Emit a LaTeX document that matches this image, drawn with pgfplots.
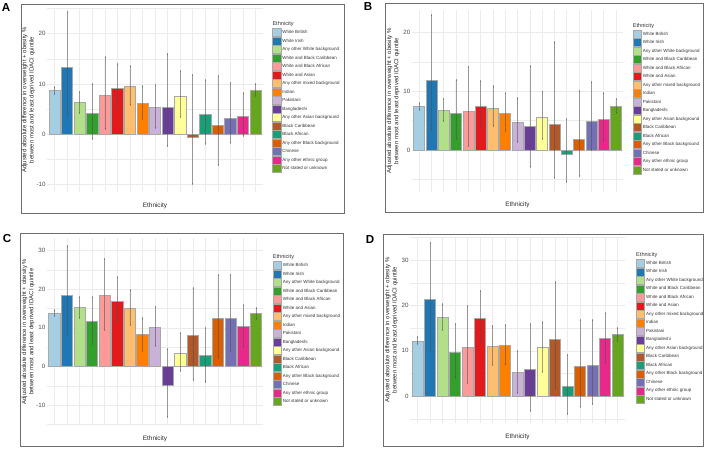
\documentclass[border=0pt]{standalone}
\usepackage{fontspec}
\setmainfont{Liberation Sans}
\usepackage{pgfplots}
\pgfplotsset{compat=1.18}

\definecolor{cWB}{HTML}{A6CEE3}
\definecolor{cWI}{HTML}{1F78B4}
\definecolor{cAOW}{HTML}{B2DF8A}
\definecolor{cWBC}{HTML}{33A02C}
\definecolor{cWBA}{HTML}{FB9A99}
\definecolor{cWA}{HTML}{E31A1C}
\definecolor{cAOM}{HTML}{FDBF6F}
\definecolor{cIND}{HTML}{FF7F00}
\definecolor{cPAK}{HTML}{CAB2D6}
\definecolor{cBAN}{HTML}{6A3D9A}
\definecolor{cAOA}{HTML}{FFFF99}
\definecolor{cBC}{HTML}{B15928}
\definecolor{cBA}{HTML}{1B9E77}
\definecolor{cAOB}{HTML}{D95F02}
\definecolor{cCHI}{HTML}{7570B3}
\definecolor{cAOE}{HTML}{E7298A}
\definecolor{cNS}{HTML}{66A61E}
\definecolor{gridc}{HTML}{EBEBEB}
\definecolor{barline}{HTML}{A8A8A8}
\definecolor{errc}{HTML}{505050}
\definecolor{tickc}{HTML}{4D4D4D}
\definecolor{boxc}{HTML}{6E6E6E}

% colour, x, value, lower CI, upper CI
\newcommand\ebar[5]{%
  \pgfmathsetmacro\ebp{#5-#3}%
  \pgfmathsetmacro\ebm{#3-#4}%
  \edef\ebcmd{\noexpand\addplot[fill=#1] coordinates {(#2,#3) += (0,\ebp) -= (0,\ebm)};}%
  \ebcmd}

\pgfplotsset{
  pstyle/.style={
    scale only axis,
    ybar, bar width=0.9, bar shift=0pt,
    xmin=0.4, xmax=17.6,
    xtick={1,...,17}, xticklabels={},
    xmajorgrids, ymajorgrids, yminorgrids,
    major grid style={color=gridc, line width=0.45pt},
    minor grid style={color=gridc, line width=0.3pt},
    axis line style={draw=none},
    major tick length=0pt, minor tick length=0pt,
    tick style={draw=none},
    yticklabel style={font=\fontsize{6.2}{7}\selectfont, text=tickc, inner sep=1.2pt},
    /pgf/number format/assume math mode=true,
    xlabel={Ethnicity},
    every axis x label/.style={at={(rel axis cs:0.5,0)}, anchor=center, yshift=-13.5pt, font=\fontsize{6.4}{7}\selectfont, text=black!85},
    ylabel={Adjusted absolute difference in overweight + obesity \%\\between most and least deprived IDACI quintile},
    every axis y label/.style={at={(rel axis cs:0,0.5)}, rotate=90, anchor=center, yshift=18.5pt, align=center, font=\fontsize{6.0}{7.2}\selectfont, text=black!85},
    every axis plot/.append style={draw=barline, line width=0.5pt,
      error bars/y dir=both, error bars/y explicit,
      error bars/error bar style={color=errc, opacity=0.5, line width=0.45pt},
      error bars/error mark options={color=errc, opacity=0.5, mark size=1pt, line width=0.45pt}},
    legend cell align=left,
    legend image code/.code={\draw[##1] (0pt,-4pt) rectangle (8.3pt,4pt);},
    legend style={anchor=north west, draw=none, fill=none, inner sep=0pt, outer sep=0pt,
      row sep=0pt, column sep=0pt, font=\fontsize{4.5}{5}\selectfont, text=black!80,
      nodes={inner xsep=1.3pt, inner ysep=0pt}},
    legend entries={White British, White Irish, Any other White background,
      White and Black Caribbean, White and Black African, White and Asian,
      Any other mixed background, Indian, Pakistani, Bangladeshi,
      Any other Asian background, Black Caribbean, Black African,
      Any other Black background, Chinese, Any other ethnic group,
      Not stated or unknown},
  }
}

\begin{document}
\begin{tikzpicture}
\useasboundingbox (0pt,0pt) rectangle (709pt,450pt);

% panel boxes
\draw[boxc, line width=0.8pt] (21pt,237pt) rectangle (344pt,446pt);
\draw[boxc, line width=0.8pt] (385.7pt,237.7pt) rectangle (703pt,446.7pt);
\draw[boxc, line width=0.8pt] (20.7pt,3.3pt) rectangle (343.3pt,216.7pt);
\draw[boxc, line width=0.8pt] (383.3pt,4pt) rectangle (703.3pt,215.7pt);

\node[font=\fontsize{11.6}{12}\selectfont\bfseries] at (6pt,442pt) {A};
\node[font=\fontsize{11.6}{12}\selectfont\bfseries] at (368pt,443pt) {B};
\node[font=\fontsize{11.6}{12}\selectfont\bfseries] at (7pt,211pt) {C};
\node[font=\fontsize{11.6}{12}\selectfont\bfseries] at (370pt,210pt) {D};

\node[anchor=west, inner sep=0pt, font=\fontsize{5.6}{6}\selectfont, text=black!80] at (272.3pt,426pt) {Ethnicity};
\node[anchor=west, inner sep=0pt, font=\fontsize{5.6}{6}\selectfont, text=black!80] at (632.7pt,424pt) {Ethnicity};
\node[anchor=west, inner sep=0pt, font=\fontsize{5.6}{6}\selectfont, text=black!80] at (272.7pt,192.7pt) {Ethnicity};
\node[anchor=west, inner sep=0pt, font=\fontsize{5.6}{6}\selectfont, text=black!80] at (636pt,195pt) {Ethnicity};

% ---------------- Panel A
\begin{axis}[pstyle, at={(47pt,258pt)}, anchor=south west, width=216pt, height=184pt,
  ymin=-11.5, ymax=25.1, ytick={-10,0,10,20}, minor ytick={-5,5,15,25},
  legend style={at={(1,1)}, xshift=9.3pt, yshift=-20.5pt}]
\ebar{cWB}{1}{8.7}{7.9}{9.3}
\ebar{cWI}{2}{13.3}{3.8}{24.3}
\ebar{cAOW}{3}{6.3}{4.3}{8.3}
\ebar{cWBC}{4}{4.1}{-0.9}{9.9}
\ebar{cWBA}{5}{7.7}{1.1}{15.3}
\ebar{cWA}{6}{9.1}{5.1}{13.9}
\ebar{cAOM}{7}{9.5}{5.9}{13.5}
\ebar{cIND}{8}{6.1}{3.1}{9.5}
\ebar{cPAK}{9}{5.3}{1.3}{9.7}
\ebar{cBAN}{10}{5.3}{-2.3}{16.0}
\ebar{cAOA}{11}{7.6}{3.5}{12.5}
\ebar{cBC}{12}{-0.7}{-9.9}{11.8}
\ebar{cBA}{13}{4.0}{-1.9}{10.7}
\ebar{cAOB}{14}{1.8}{-6.2}{11.5}
\ebar{cCHI}{15}{3.1}{-1.8}{10.1}
\ebar{cAOE}{16}{3.6}{-0.3}{8.1}
\ebar{cNS}{17}{8.7}{7.5}{9.9}
\end{axis}

% ---------------- Panel B
\begin{axis}[pstyle, at={(411.7pt,258.3pt)}, anchor=south west, width=211.6pt, height=181.7pt,
  ymin=-7.1, ymax=23.8, ytick={0,10,20}, minor ytick={-5,5,15},
  legend style={at={(1,1)}, xshift=9.4pt, yshift=-20pt}]
\ebar{cWB}{1}{7.4}{6.8}{7.9}
\ebar{cWI}{2}{11.9}{3.4}{22.9}
\ebar{cAOW}{3}{6.7}{4.9}{8.6}
\ebar{cWBC}{4}{6.3}{1.8}{11.9}
\ebar{cWBA}{5}{6.6}{0.7}{14.1}
\ebar{cWA}{6}{7.4}{3.8}{11.7}
\ebar{cAOM}{7}{7.1}{4.0}{10.8}
\ebar{cIND}{8}{6.2}{3.3}{9.6}
\ebar{cPAK}{9}{4.7}{1.3}{8.8}
\ebar{cBAN}{10}{4.0}{-2.9}{14.3}
\ebar{cAOA}{11}{5.5}{1.8}{9.9}
\ebar{cBC}{12}{4.4}{-4.8}{18.3}
\ebar{cBA}{13}{-0.7}{-5.5}{5.3}
\ebar{cAOB}{14}{1.8}{-4.5}{10.1}
\ebar{cCHI}{15}{4.8}{0.0}{11.6}
\ebar{cAOE}{16}{5.3}{1.5}{9.6}
\ebar{cNS}{17}{7.5}{6.3}{8.6}
\end{axis}

% ---------------- Panel C
\begin{axis}[pstyle, at={(46.7pt,25pt)}, anchor=south west, width=216.6pt, height=186.7pt,
  ymin=-15.2, ymax=33.2, ytick={-10,0,10,20,30}, minor ytick={-15,-5,5,15,25},
  legend style={at={(1,1)}, xshift=9.4pt, yshift=-23.1pt}]
\ebar{cWB}{1}{13.8}{13.1}{14.5}
\ebar{cWI}{2}{18.5}{7.9}{31.3}
\ebar{cAOW}{3}{15.3}{12.6}{17.9}
\ebar{cWBC}{4}{11.8}{5.8}{17.9}
\ebar{cWBA}{5}{18.4}{9.4}{27.9}
\ebar{cWA}{6}{17.0}{11.4}{23.1}
\ebar{cAOM}{7}{15.1}{10.6}{19.7}
\ebar{cIND}{8}{8.3}{4.1}{12.5}
\ebar{cPAK}{9}{10.2}{5.4}{15.4}
\ebar{cBAN}{10}{-4.9}{-13.1}{4.4}
\ebar{cAOA}{11}{3.5}{-1.3}{8.6}
\ebar{cBC}{12}{8.1}{-3.6}{20.3}
\ebar{cBA}{13}{2.8}{-4.1}{10.0}
\ebar{cAOB}{14}{12.5}{2.2}{23.6}
\ebar{cCHI}{15}{12.6}{4.1}{23.6}
\ebar{cAOE}{16}{10.3}{5.1}{15.8}
\ebar{cNS}{17}{13.7}{12.2}{15.1}
\end{axis}

% ---------------- Panel D
\begin{axis}[pstyle, at={(410pt,26.7pt)}, anchor=south west, width=215pt, height=186.6pt,
  ymin=-6.0, ymax=35.2, ytick={0,10,20,30}, minor ytick={-5,5,15,25,35},
  legend style={at={(1,1)}, xshift=11pt, yshift=-22.3pt}]
\ebar{cWB}{1}{12.2}{11.5}{13.0}
\ebar{cWI}{2}{21.3}{10.2}{33.8}
\ebar{cAOW}{3}{17.5}{14.7}{20.3}
\ebar{cWBC}{4}{9.7}{4.1}{15.9}
\ebar{cWBA}{5}{10.7}{2.8}{19.9}
\ebar{cWA}{6}{17.1}{11.6}{23.2}
\ebar{cAOM}{7}{11.0}{6.8}{15.5}
\ebar{cIND}{8}{11.3}{7.0}{15.7}
\ebar{cPAK}{9}{5.2}{0.7}{10.0}
\ebar{cBAN}{10}{5.9}{-3.2}{16.0}
\ebar{cAOA}{11}{10.7}{5.4}{16.3}
\ebar{cBC}{12}{12.5}{1.8}{25.3}
\ebar{cBA}{13}{2.2}{-4.0}{9.1}
\ebar{cAOB}{14}{6.5}{-2.4}{16.7}
\ebar{cCHI}{15}{6.9}{-1.7}{16.8}
\ebar{cAOE}{16}{12.7}{7.4}{18.3}
\ebar{cNS}{17}{13.7}{12.2}{15.0}
\end{axis}
\end{tikzpicture}
\end{document}
